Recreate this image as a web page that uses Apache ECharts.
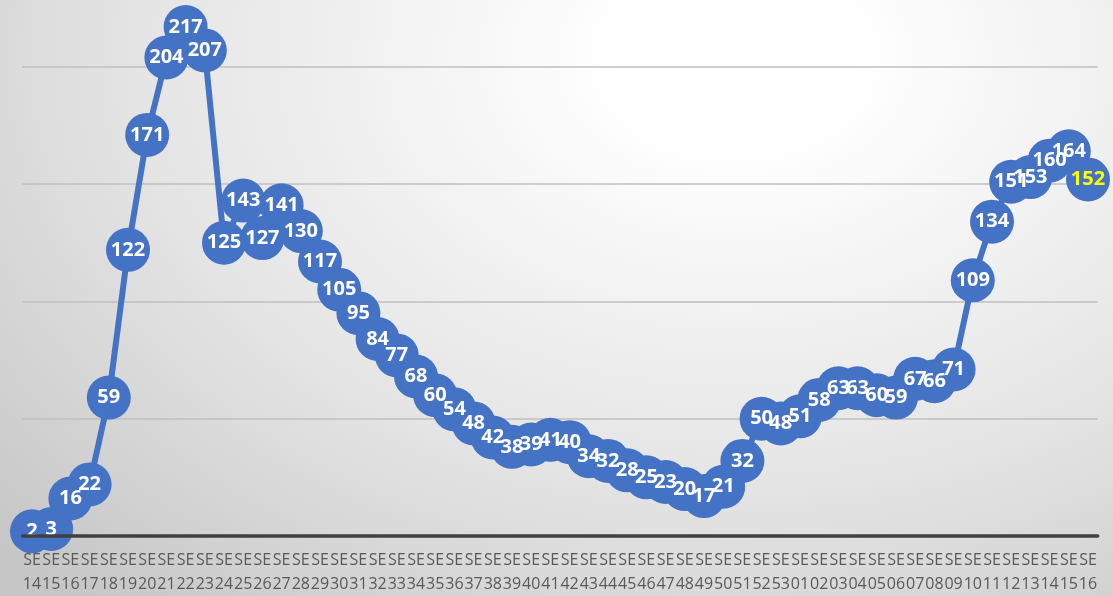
<!DOCTYPE html>
<html>
<head>
<meta charset="utf-8">
<script src="https://cdn.jsdelivr.net/npm/echarts@6/dist/echarts.min.js"></script>
<style>
html,body{margin:0;padding:0;}
#chart{width:1113px;height:596px;background:radial-gradient(ellipse 90% 120% at 66% 10%, #ffffff 0%, #ffffff 12%, #e4e4e4 60%, #c6c6c6 100%);}
</style>
</head>
<body>
<div id="chart"></div>
<script>
var weekPrefix = 'SE';
var weeks = ['14','15','16','17','18','19','20','21','22','23','24','25','26','27','28','29','30','31','32','33','34','35','36','37','38','39','40','41','42','43','44','45','46','47','48','49','50','51','52','53','01','02','03','04','05','06','07','08','09','10','11','12','13','14','15','16'];
var values = [2,3,16,22,59,122,171,204,217,207,125,143,127,141,130,117,105,95,84,77,68,60,54,48,42,38,39,41,40,34,32,28,25,23,20,17,21,32,50,48,51,58,63,63,60,59,67,66,71,109,134,151,153,160,164,152];
var gridValues = [50,100,150,200];
var yMin = 0;
var yMax = 228.5;

var categories = weeks.map(function(w, i){ return i + ':' + w; });
var seriesData = values.map(function(v, i){
  var d = {value: v};
  if (i === values.length - 1) d.label = {color: '#FFFF00'};
  return d;
});

var chart = echarts.init(document.getElementById('chart'), null, {renderer:'canvas'});
chart.setOption({
  backgroundColor: 'transparent',
  animation: false,
  grid: {left: 22.4, right: 15.4, top: 0, bottom: 58, containLabel: false},
  xAxis: {
    type: 'category',
    data: categories,
    boundaryGap: true,
    axisLine: {show: true, lineStyle: {color: '#404040', width: 3.5}},
    axisTick: {show: false},
    axisLabel: {
      interval: 0,
      margin: 12,
      color: '#595959',
      fontFamily: 'Open Sans',
      fontSize: 16,
      lineHeight: 24,
      formatter: function(v){ return weekPrefix + '\n' + v.split(':')[1]; }
    },
    z: 5
  },
  yAxis: {
    type: 'value',
    min: yMin,
    max: yMax,
    axisLine: {show: false},
    axisTick: {show: false},
    axisLabel: {show: false},
    splitLine: {show: false}
  },
  series: [{
    type: 'line',
    data: seriesData,
    symbol: 'circle',
    symbolSize: 44,
    showAllSymbol: true,
    lineStyle: {color: '#4472C4', width: 6},
    itemStyle: {color: '#4472C4'},
    label: {
      show: true,
      position: 'inside',
      color: '#ffffff',
      fontFamily: 'Open Sans',
      fontWeight: 'bold',
      fontSize: 20
    },
    markLine: {
      silent: true,
      symbol: ['none','none'],
      label: {show: false},
      lineStyle: {color: '#bfbfbf', width: 1.5, type: 'solid'},
      z: 0,
      data: gridValues.map(function(g){ return {yAxis: g}; })
    },
    z: 3
  }]
});
</script>
</body>
</html>
